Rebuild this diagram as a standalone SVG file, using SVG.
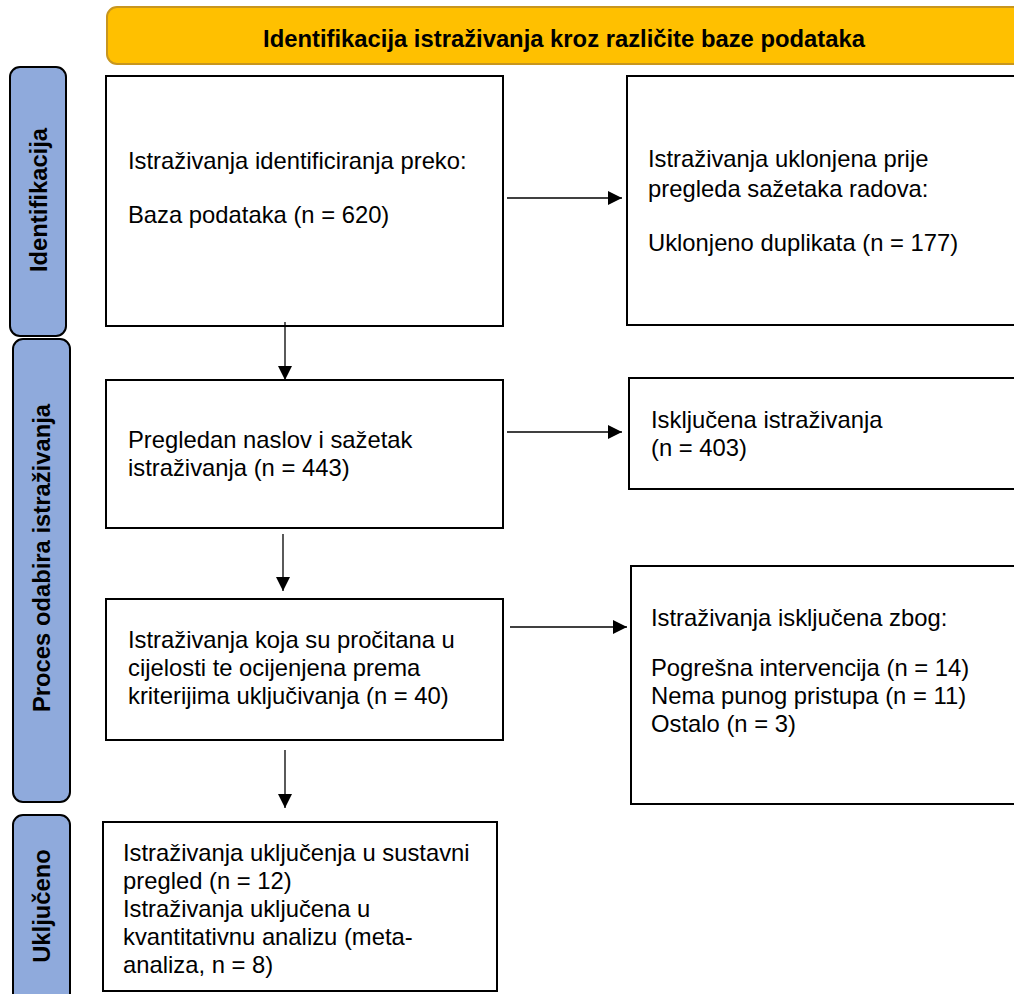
<svg xmlns="http://www.w3.org/2000/svg" width="1014" height="994" viewBox="0 0 1014 994">
<style>
  .box{fill:#fff;stroke:#000;stroke-width:2}
  .side{fill:#8FAADC;stroke:#000;stroke-width:2}
  .t{font-family:"Liberation Sans",Arial,sans-serif;font-size:23.8px;fill:#000}
  .b{font-family:"Liberation Sans",Arial,sans-serif;font-size:23.8px;font-weight:bold;fill:#000}
  .c{stroke:#000;stroke-width:1.3;fill:none;marker-end:url(#ah)}
</style>
<defs>
  <marker id="ah" viewBox="0 0 10 10" refX="10" refY="5" markerWidth="14" markerHeight="14" markerUnits="userSpaceOnUse" orient="auto">
    <path d="M0,0 L10,5 L0,10 z" fill="#000"/>
  </marker>
</defs>
<rect width="1014" height="994" fill="#fff"/>
<g id="header">
  <rect x="107" y="7" width="930" height="57" rx="10" fill="#FFC000" stroke="#C8961E" stroke-width="2"/>
  <text class="b" x="564" y="47" text-anchor="middle">Identifikacija istraživanja kroz različite baze podataka</text>
</g>
<g id="side-identifikacija">
  <rect class="side" x="10" y="67" width="56" height="269" rx="10"/>
  <text class="b" transform="translate(47,200) rotate(-90)" text-anchor="middle">Identifikacija</text>
</g>
<g id="side-proces">
  <rect class="side" x="13" y="339" width="57" height="463" rx="10"/>
  <text class="b" transform="translate(50,558) rotate(-90)" text-anchor="middle">Proces odabira istraživanja</text>
</g>
<g id="side-ukljuceno">
  <rect class="side" x="13" y="815" width="57" height="200" rx="10"/>
  <text class="b" transform="translate(50,906) rotate(-90)" text-anchor="middle">Uključeno</text>
</g>
<g id="box1">
  <rect class="box" x="106" y="76" width="397" height="250"/>
  <text class="t" x="128" y="169">Istraživanja identificiranja preko:</text>
  <text class="t" x="128" y="223">Baza podataka (n = 620)</text>
</g>
<g id="box2">
  <rect class="box" x="627" y="76" width="420" height="249"/>
  <text class="t" x="648" y="167">Istraživanja uklonjena prije</text>
  <text class="t" x="648" y="197">pregleda sažetaka radova:</text>
  <text class="t" x="648" y="251">Uklonjeno duplikata (n = 177)</text>
</g>
<g id="box3">
  <rect class="box" x="106" y="380" width="397" height="148"/>
  <text class="t" x="128" y="448">Pregledan naslov i sažetak</text>
  <text class="t" x="128" y="476">istraživanja (n = 443)</text>
</g>
<g id="box4">
  <rect class="box" x="629" y="378" width="420" height="111"/>
  <text class="t" x="651" y="428">Isključena istraživanja</text>
  <text class="t" x="651" y="456">(n = 403)</text>
</g>
<g id="box5">
  <rect class="box" x="106" y="599" width="397" height="141"/>
  <text class="t" x="128" y="648">Istraživanja koja su pročitana u</text>
  <text class="t" x="128" y="676">cijelosti te ocijenjena prema</text>
  <text class="t" x="128" y="704">kriterijima uključivanja (n = 40)</text>
</g>
<g id="box6">
  <rect class="box" x="631" y="566" width="420" height="238"/>
  <text class="t" x="651" y="626">Istraživanja isključena zbog:</text>
  <text class="t" x="651" y="676">Pogrešna intervencija (n = 14)</text>
  <text class="t" x="651" y="704">Nema punog pristupa (n = 11)</text>
  <text class="t" x="651" y="732">Ostalo (n = 3)</text>
</g>
<g id="box7">
  <rect class="box" x="103" y="822" width="394" height="169"/>
  <text class="t" x="123" y="861">Istraživanja uključenja u sustavni</text>
  <text class="t" x="123" y="889">pregled (n = 12)</text>
  <text class="t" x="123" y="917">Istraživanja uključena u</text>
  <text class="t" x="123" y="945">kvantitativnu analizu (meta-</text>
  <text class="t" x="123" y="973">analiza, n = 8)</text>
</g>
<g id="connectors">
  <line class="c" x1="507" y1="198" x2="622" y2="198"/>
  <line class="c" x1="285" y1="322" x2="285" y2="380"/>
  <line class="c" x1="507" y1="432" x2="622" y2="432"/>
  <line class="c" x1="283" y1="534" x2="283" y2="591"/>
  <line class="c" x1="510" y1="627" x2="627" y2="627"/>
  <line class="c" x1="285" y1="750" x2="285" y2="808"/>
</g>
</svg>
